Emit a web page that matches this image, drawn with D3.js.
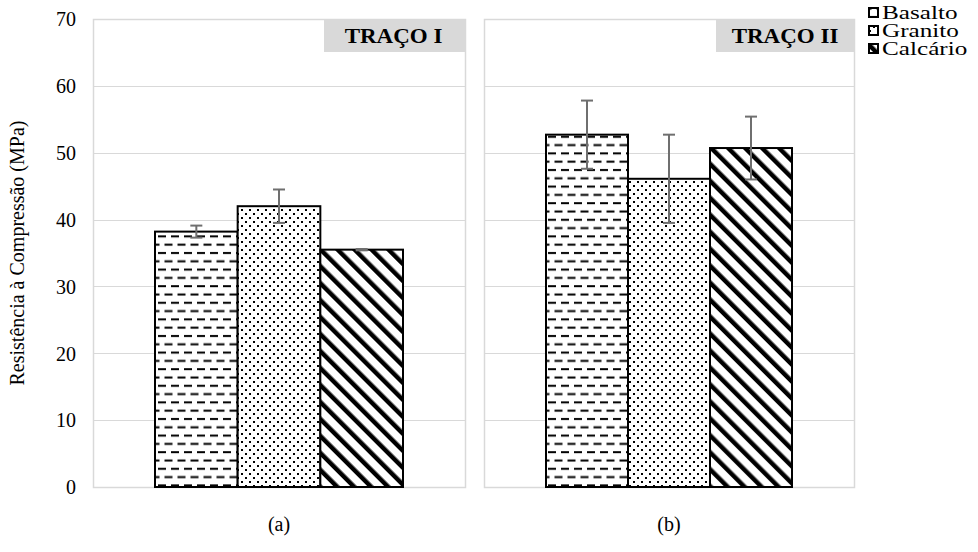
<!DOCTYPE html>
<html><head><meta charset="utf-8">
<script src="https://cdn.jsdelivr.net/npm/d3@7"></script>
<style>body{margin:0;background:#fff}svg{display:block}</style>
</head><body><svg id="c" width="978" height="552"></svg>
<script>
const series = ["Basalto","Granito","Calcário"];
const panels = ["TRAÇO I","TRAÇO II"];
const panelLabels = ["(a)","(b)"];
const valuesI = [38.2, 42.0, 35.5];
const errorsI = [0.9, 2.5, 0.1];
const valuesII = [52.7, 46.1, 50.7];
const errorsII = [5.1, 6.6, 4.7];
const yTicks = [0,10,20,30,40,50,60,70];
const yLabel = "Resistência à Compressão (MPa)";
const FF = "Liberation Serif";

const svg = d3.select("#c");
const defs = svg.append("defs");
const pDash = defs.append("pattern").attr("id","pDash").attr("patternUnits","userSpaceOnUse").attr("width",13).attr("height",16.6);
pDash.append("rect").attr("width",13).attr("height",16.6).attr("fill","#fff");
pDash.append("rect").attr("x",2).attr("y",3).attr("width",8).attr("height",2).attr("fill","#000");
pDash.append("rect").attr("x",8.5).attr("y",11.3).attr("width",8).attr("height",2).attr("fill","#000");
pDash.append("rect").attr("x",-4.5).attr("y",11.3).attr("width",8).attr("height",2).attr("fill","#000");
const pDot = defs.append("pattern").attr("id","pDot").attr("patternUnits","userSpaceOnUse").attr("width",8).attr("height",8);
pDot.append("rect").attr("width",8).attr("height",8).attr("fill","#fff");
pDot.append("rect").attr("x",1).attr("y",1).attr("width",2).attr("height",2).attr("fill","#000");
pDot.append("rect").attr("x",5).attr("y",5).attr("width",2).attr("height",2).attr("fill","#000");
const pDiag = defs.append("pattern").attr("id","pDiag").attr("patternUnits","userSpaceOnUse").attr("width",12).attr("height",12).attr("patternTransform","rotate(-45)");
pDiag.append("rect").attr("width",12).attr("height",12).attr("fill","#fff");
pDiag.append("rect").attr("x",0).attr("y",0).attr("width",4.5).attr("height",12).attr("fill","#000");
const fills = ["url(#pDash)","url(#pDot)","url(#pDiag)"];

const y = d3.scaleLinear().domain([0,70]).range([487,19]);
const panelX = [[93,465],[484,854]];
const data = [[valuesI,errorsI],[valuesII,errorsII]];

const yAxis = d3.axisLeft(y).tickValues(yTicks).tickSize(0).tickPadding(0);
const ya = svg.append("g").attr("transform","translate(76,0)").call(yAxis).attr("font-family",FF).attr("font-size",20);
ya.select(".domain").remove();
ya.selectAll("text").attr("fill","#000").attr("dy","0.34em");

svg.append("text").attr("transform","translate(24,253) rotate(-90)").attr("text-anchor","middle")
  .attr("font-family",FF).attr("font-size",20).text(yLabel);

panels.forEach((pn,pi)=>{
  const [x0,x1] = panelX[pi];
  const g = svg.append("g");
  g.selectAll("line.grid").data(yTicks.filter(t=>t>0 && t<70)).join("line")
    .attr("x1",x0).attr("x2",x1).attr("y1",d=>Math.round(y(d))+0.5).attr("y2",d=>Math.round(y(d))+0.5)
    .attr("stroke","#d9d9d9").attr("stroke-width",1);
  g.append("rect").attr("x",x0+0.5).attr("y",y(70)+0.5).attr("width",x1-x0).attr("height",y(0)-y(70))
    .attr("fill","none").attr("stroke","#d9d9d9").attr("stroke-width",1.5);
  const x = d3.scaleBand().domain(series).range([x0+62,x1-62]).paddingInner(0).paddingOuter(0);
  const [vals,errs] = data[pi];
  g.selectAll("rect.bar").data(series).join("rect")
    .attr("x",d=>x(d)).attr("y",(d,i)=>y(vals[i])).attr("width",x.bandwidth()).attr("height",(d,i)=>y(0)-y(vals[i]))
    .attr("fill",(d,i)=>fills[i]).attr("stroke","#000").attr("stroke-width",2);
  series.forEach((s,i)=>{
    const cx = x(s)+x.bandwidth()/2;
    const t = y(vals[i]+errs[i]), b = y(vals[i]-errs[i]);
    g.append("line").attr("x1",cx).attr("x2",cx).attr("y1",t).attr("y2",b).attr("stroke","#6f6f6f").attr("stroke-width",2);
    [t,b].forEach(yy=>g.append("line").attr("x1",cx-6).attr("x2",cx+6).attr("y1",yy).attr("y2",yy).attr("stroke","#6f6f6f").attr("stroke-width",2));
  });
  const bw = pi===0?141:138;
  g.append("rect").attr("x",x1-bw).attr("y",y(70)).attr("width",bw).attr("height",33).attr("fill","#d9d9d9");
  const tcx = x1-bw/2 + (pi===0?-1:0);
  g.append("text").attr("transform",`translate(${tcx},${y(70)+24}) scale(1.15,1)`).attr("text-anchor","middle")
    .attr("font-family",FF).attr("font-size",20).attr("font-weight","bold").text(pn);
  svg.append("text").attr("x",(x0+x1)/2).attr("y",531).attr("text-anchor","middle").attr("font-family",FF).attr("font-size",20).text(panelLabels[pi]);
});

const lg = svg.append("g").attr("transform","translate(868,13)");
series.forEach((s,i)=>{
  const gy = i*18;
  lg.append("rect").attr("x",1).attr("y",gy-5).attr("width",9).attr("height",9).attr("fill",fills[i]).attr("stroke","#000").attr("stroke-width",2);
  lg.append("text").attr("transform",`translate(14,${gy+6}) scale(1.4,1)`).attr("font-family",FF).attr("font-size",18).text(s);
});
</script></body></html>
